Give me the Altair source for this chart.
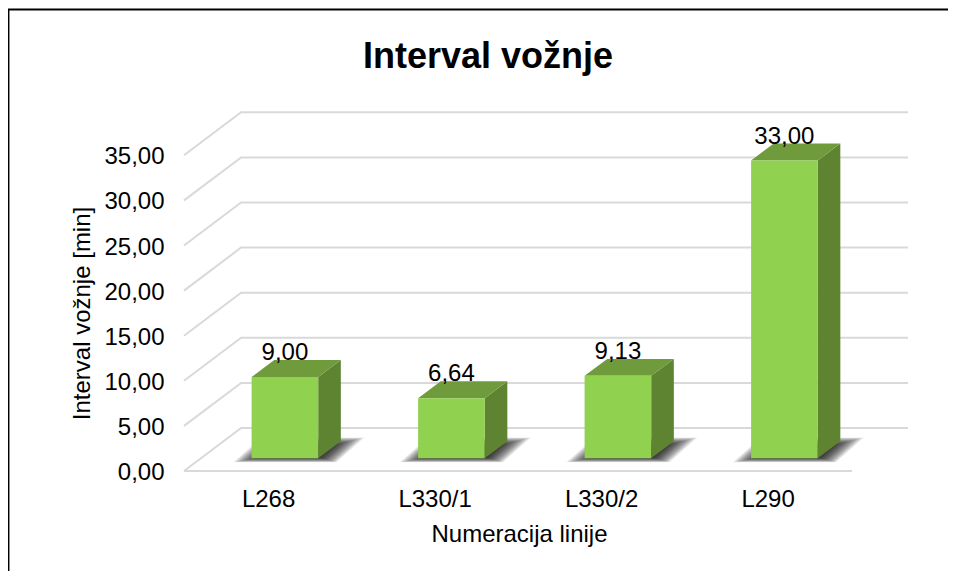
import json
import altair as alt
import pandas as pd

categories = ["L268", "L330/1", "L330/2", "L290"]
values = [9.00, 6.64, 9.13, 33.00]
ticks = [0, 5, 10, 15, 20, 25, 30, 35]

FONT = "Liberation Sans"
TXT = 24
# geometry expressed in axis units (one category = 1 on x, value units on y)
W, H = 724, 359
X_MAX, Y_MAX = W / 166.5, H / 9.02
WALL_DX, WALL_DY = 0.343, 4.77
FLOOR_END = 4.012
BAR_W, BAR_DX, BAR_DY = 0.40, 0.136, 1.88
BAR_SHIFT, BAR_BASE = 0.606, 1.42

xs = alt.Scale(domain=[0, X_MAX], nice=False, zero=False)
ys = alt.Scale(domain=[0, Y_MAX], nice=False, zero=False)

grid = []
for t in ticks:
    grid += [dict(k=t, o=0, x=0, y=t), dict(k=t, o=1, x=WALL_DX, y=t + WALL_DY),
             dict(k=t, o=2, x=X_MAX, y=t + WALL_DY)]
grid += [dict(k=-1, o=0, x=0, y=0), dict(k=-1, o=1, x=FLOOR_END, y=0)]

fronts, sides, tops, shadows, labels = [], [], [], [], []
for i, (c, v) in enumerate(zip(categories, values)):
    xc = i + BAR_SHIFT
    xl, xr = xc - BAR_W / 2, xc + BAR_W / 2
    y0, y1 = BAR_BASE, BAR_BASE + v
    fronts.append(dict(c=c, x=xl, x2=xr, y=y1, y2=y0))
    sides += [dict(c=c, x=xr, y=y1, y2=y0), dict(c=c, x=xr + BAR_DX, y=y1 + BAR_DY, y2=y0 + BAR_DY)]
    tops += [dict(c=c, y=y1, x=xl, x2=xr), dict(c=c, y=y1 + BAR_DY, x=xl + BAR_DX, x2=xr + BAR_DX)]
    labels.append(dict(x=xc, y=y1 + BAR_DY, t=f"{v:.2f}".replace(".", ",")))
    slope = 0.061
    for s in range(20):
        ins = s * 0.0075
        base_low = y0 - 0.45
        low, high = base_low + s * 0.03, y0 + 2.3 - s * 0.05
        off = (low - base_low) * slope
        shadows += [dict(k=f"{c}{s}", y=low, x=xl - 0.11 + ins + off, x2=xr + 0.11 - ins + off),
                    dict(k=f"{c}{s}", y=high, x=xl - 0.11 + ins + off + (high - low) * slope,
                         x2=xr + 0.11 - ins + off + (high - low) * slope)]

x_axis = alt.Axis(
    values=[i + 0.505 for i in range(len(categories))],
    labelExpr=f"{json.dumps(categories)}[floor(datum.value)]",
    domain=False, ticks=False, grid=False, labelPadding=16, labelFontSize=TXT, labelColor="#000000",
    labelFont=FONT, labelFlush=False, labelOverlap=False, titleFont=FONT, titleFontSize=TXT,
    titleFontWeight="normal", titleColor="#000000", titleX=335, titleY=63, titleAlign="center",
    titleBaseline="middle")
y_axis = alt.Axis(
    values=ticks, labelExpr="replace(format(datum.value,'.2f'),'.',',')",
    domain=False, ticks=False, grid=False, labelPadding=20, labelOffset=1.5, labelFontSize=TXT,
    labelColor="#000000", labelFont=FONT, titleFont=FONT, titleFontSize=TXT, titleFontWeight="normal",
    titleColor="#000000", titleX=-102, titleY=201, titleAlign="center", titleBaseline="middle", titleAngle=270)

X = lambda f="x": alt.X(f"{f}:Q", scale=xs, axis=x_axis, title="Numeracija linije")
Y = lambda f="y": alt.Y(f"{f}:Q", scale=ys, axis=y_axis, title="Interval vožnje [min]")

one = pd.DataFrame(dict(a=[0]))
border_top = alt.Chart(one).mark_rule(color="#000000", strokeWidth=2, clip=False).encode(
    x=alt.value(-176), x2=alt.value(764), y=alt.value(-102.5))
border_left = alt.Chart(one).mark_rule(color="#000000", strokeWidth=1.5, clip=False).encode(
    x=alt.value(-175.3), y=alt.value(-103), y2=alt.value(459))

grid_l = alt.Chart(pd.DataFrame(grid)).mark_line(color="#D9D9D9", strokeWidth=2, clip=False).encode(
    x=X(), y=Y(), detail="k:N", order="o:Q")
shadow_l = alt.Chart(pd.DataFrame(shadows)).mark_area(orient="horizontal", color="#000000", opacity=0.075).encode(
    y=Y(), x=X(), x2="x2:Q", detail="k:N")
side_l = alt.Chart(pd.DataFrame(sides)).mark_area(orient="vertical", color="#5E8431").encode(
    x=X(), y=Y(), y2="y2:Q", detail="c:N")
top_l = alt.Chart(pd.DataFrame(tops)).mark_area(orient="horizontal", color="#6F9B3D").encode(
    y=Y(), x=X(), x2="x2:Q", detail="c:N")
front_l = alt.Chart(pd.DataFrame(fronts)).mark_rect(color="#90D14F").encode(
    x=X(), x2="x2:Q", y=Y(), y2="y2:Q")
label_l = alt.Chart(pd.DataFrame(labels)).mark_text(
    font=FONT, fontSize=24, color="#000000", baseline="alphabetic", align="center"
).encode(x=X(), y=Y(), text="t:N")

chart = alt.layer(border_top, border_left, grid_l, shadow_l, side_l, top_l, front_l, label_l).properties(
    width=W, height=H,
    title=alt.TitleParams("Interval vožnje", font=FONT, fontSize=36, fontWeight="bold", color="#000000",
                          anchor="middle", dx=-58, offset=0, dy=68),
    autosize=alt.AutoSizeParams(type="none"),
    padding={"left": 176, "top": 104, "right": 40, "bottom": 100},
    background="white",
).configure_view(stroke=None)

chart.save("out.html", embed_options={"renderer": "svg", "actions": False})
